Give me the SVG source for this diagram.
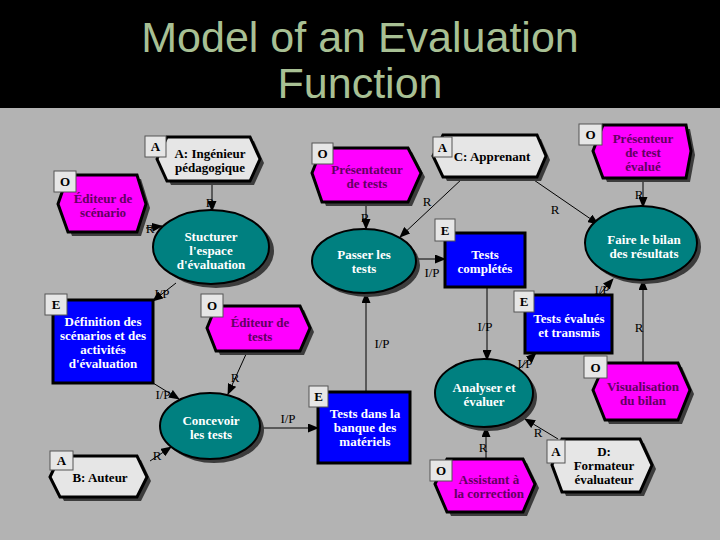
<svg xmlns="http://www.w3.org/2000/svg" width="720" height="540" viewBox="0 0 720 540">
<defs>
<marker id="ah" markerUnits="userSpaceOnUse" markerWidth="11" markerHeight="9" refX="10" refY="4.5" orient="auto" viewBox="0 0 11 9">
<path d="M0,0 L11,4.5 L0,9 z" fill="#000"/>
</marker>
</defs>
<style>
.title{font-family:"Liberation Sans",Arial,sans-serif;font-size:43px;fill:#a8c094;text-anchor:middle}
.shadow{fill:#3c3c3c;stroke:none}
.hexm{fill:#ff00ff;stroke:#000;stroke-width:3}
.hexg{fill:#e6e6e6;stroke:#000;stroke-width:3}
.ell{fill:#008080;stroke:#000;stroke-width:2}
.rect{fill:#0000ff;stroke:#000;stroke-width:3}
.lbox{fill:#e6e6e6;stroke:#555;stroke-width:1}
.lt{font-family:"Liberation Serif","Times New Roman",serif;font-size:13px;font-weight:bold;fill:#000;text-anchor:middle}
.tw{font-family:"Liberation Serif","Times New Roman",serif;font-size:13px;font-weight:bold;fill:#fff;text-anchor:middle}
.tm{font-family:"Liberation Serif","Times New Roman",serif;font-size:13px;font-weight:bold;fill:#620062;text-anchor:middle}
.tk{font-family:"Liberation Serif","Times New Roman",serif;font-size:13px;font-weight:bold;fill:#000;text-anchor:middle}
.cl{font-family:"Liberation Serif","Times New Roman",serif;font-size:13px;fill:#000;text-anchor:middle}
.conn line{stroke:#000;stroke-width:1;marker-end:url(#ah)}
</style>
<rect x="0" y="0" width="720" height="540" fill="#b3b3b3"/>
<rect x="0" y="0" width="720" height="108" fill="#000"/>
<text class="title" x="360" y="52">Model of an Evaluation</text>
<text class="title" x="360" y="98">Function</text>

<g id="connectors" class="conn">
<line x1="212" y1="182" x2="212" y2="211"/>
<line x1="146" y1="228" x2="162" y2="226"/>
<line x1="366" y1="203" x2="366" y2="229"/>
<line x1="463" y1="178" x2="400" y2="237"/>
<line x1="531" y1="178" x2="598" y2="224"/>
<line x1="416" y1="259" x2="445" y2="259"/>
<line x1="643" y1="179" x2="643" y2="207"/>
<line x1="487" y1="288" x2="487" y2="360"/>
<line x1="599" y1="295" x2="613" y2="279"/>
<line x1="519" y1="369" x2="536" y2="353"/>
<line x1="643" y1="363" x2="643" y2="280"/>
<line x1="366" y1="392" x2="366" y2="293"/>
<line x1="260" y1="428" x2="318" y2="428"/>
<line x1="247" y1="352" x2="228" y2="394"/>
<line x1="176" y1="283" x2="153" y2="301"/>
<line x1="153" y1="383" x2="179" y2="399"/>
<line x1="150" y1="461" x2="171" y2="447"/>
<line x1="486" y1="459" x2="486" y2="427"/>
<line x1="558" y1="439" x2="525" y2="419"/>
<text class="cl" x="210" y="207">R</text>
<text class="cl" x="150" y="233">R</text>
<text class="cl" x="365" y="222">R</text>
<text class="cl" x="427" y="206">R</text>
<text class="cl" x="555" y="214">R</text>
<text class="cl" x="432" y="277">I/P</text>
<text class="cl" x="639" y="199">R</text>
<text class="cl" x="485" y="331">I/P</text>
<text class="cl" x="602" y="294">I/P</text>
<text class="cl" x="525" y="368">I/P</text>
<text class="cl" x="639" y="332">R</text>
<text class="cl" x="382" y="348">I/P</text>
<text class="cl" x="288" y="423">I/P</text>
<text class="cl" x="235" y="382">R</text>
<text class="cl" x="162" y="298">I/P</text>
<text class="cl" x="163" y="399">I/P</text>
<text class="cl" x="157" y="460">R</text>
<text class="cl" x="483" y="452">R</text>
<text class="cl" x="538" y="437">R</text>
</g>

<g id="n_ingenieur">
<polygon class="shadow" points="161,163 171,141 254,141 264,163 254,185 171,185"/>
<polygon class="hexg" points="157,159 167,137 250,137 260,159 250,181 167,181"/>
<rect class="lbox" x="145" y="136" width="21" height="21"/>
<text class="lt" x="155.5" y="151">A</text>
<text class="tk" x="210" y="158">A: Ingénieur</text>
<text class="tk" x="210" y="172">pédagogique</text>
</g>

<g id="n_editeur_scenario">
<polygon class="shadow" points="62,208 72,179 141,179 150,208 141,236 72,236"/>
<polygon class="hexm" points="58,204 68,175 137,175 146,204 137,232 68,232"/>
<rect class="lbox" x="54" y="171" width="22" height="21"/>
<text class="lt" x="65" y="186">O</text>
<text class="tm" x="103" y="203">Éditeur de</text>
<text class="tm" x="103" y="217">scénario</text>
</g>

<g id="n_structurer">
<ellipse class="shadow" cx="216" cy="251" rx="58" ry="37"/>
<ellipse class="ell" cx="211" cy="247" rx="58" ry="37"/>
<text class="tw" x="211" y="241">Stucturer</text>
<text class="tw" x="211" y="255">l'espace</text>
<text class="tw" x="211" y="269">d'évaluation</text>
</g>

<g id="n_presentateur">
<polygon class="shadow" points="316,177 326,152 412,152 425,177 412,206 326,206"/>
<polygon class="hexm" points="312,173 322,148 408,148 421,173 408,202 322,202"/>
<rect class="lbox" x="312" y="143" width="21" height="21"/>
<text class="lt" x="322.5" y="158">O</text>
<text class="tm" x="367" y="174">Présentateur</text>
<text class="tm" x="367" y="188">de tests</text>
</g>

<g id="n_passer">
<ellipse class="shadow" cx="368" cy="265" rx="52" ry="32"/>
<ellipse class="ell" cx="364" cy="261" rx="52" ry="32"/>
<text class="tw" x="364" y="259">Passer les</text>
<text class="tw" x="364" y="273">tests</text>
</g>

<g id="n_apprenant">
<polygon class="shadow" points="437,160 447,139 541,139 550,160 541,181 447,181"/>
<polygon class="hexg" points="433,156 443,135 537,135 546,156 537,177 443,177"/>
<rect class="lbox" x="433" y="137" width="19" height="20"/>
<text class="lt" x="442.5" y="152">A</text>
<text class="tk" x="492" y="161">C: Apprenant</text>
</g>

<g id="n_tests_completes">
<rect class="rect" x="445" y="233" width="80" height="54"/>
<rect class="lbox" x="435" y="219" width="20" height="22"/>
<text class="lt" x="445" y="235">E</text>
<text class="tw" x="485" y="259">Tests</text>
<text class="tw" x="485" y="273">complétés</text>
</g>

<g id="n_bilan">
<ellipse class="shadow" cx="645" cy="247" rx="56" ry="37"/>
<ellipse class="ell" cx="641" cy="243" rx="56" ry="37"/>
<text class="tw" x="644" y="244">Faire le bilan</text>
<text class="tw" x="644" y="258">des résultats</text>
</g>

<g id="n_presenteur">
<polygon class="shadow" points="597,155 607,129 690,129 695,155 690,182 607,182"/>
<polygon class="hexm" points="593,151 603,125 686,125 691,151 686,178 603,178"/>
<rect class="lbox" x="579" y="124" width="23" height="21"/>
<text class="lt" x="590.5" y="139">O</text>
<text class="tm" x="643" y="143">Présenteur</text>
<text class="tm" x="643" y="157">de test</text>
<text class="tm" x="643" y="171">évalué</text>
</g>

<g id="n_tests_evalues">
<rect class="rect" x="525" y="295" width="87" height="58"/>
<rect class="lbox" x="514" y="291" width="20" height="21"/>
<text class="lt" x="524" y="306">E</text>
<text class="tw" x="569" y="323">Tests évalués</text>
<text class="tw" x="569" y="337">et transmis</text>
</g>

<g id="n_analyser">
<ellipse class="shadow" cx="488" cy="397" rx="49" ry="34"/>
<ellipse class="ell" cx="484" cy="393" rx="49" ry="34"/>
<text class="tw" x="484" y="392">Analyser et</text>
<text class="tw" x="484" y="406">évaluer</text>
</g>

<g id="n_visualisation">
<polygon class="shadow" points="597,394 609,367 682,367 694,394 682,424 609,424"/>
<polygon class="hexm" points="593,390 605,363 678,363 690,390 678,420 605,420"/>
<rect class="lbox" x="584" y="356" width="23" height="22"/>
<text class="lt" x="595.5" y="372">O</text>
<text class="tm" x="643" y="391">Visualisation</text>
<text class="tm" x="643" y="405">du bilan</text>
</g>

<g id="n_banque">
<rect class="rect" x="318" y="392" width="92" height="71"/>
<rect class="lbox" x="309" y="386" width="19" height="21"/>
<text class="lt" x="318.5" y="401">E</text>
<text class="tw" x="365" y="418">Tests dans la</text>
<text class="tw" x="365" y="432">banque des</text>
<text class="tw" x="365" y="446">matériels</text>
</g>

<g id="n_concevoir">
<ellipse class="shadow" cx="214" cy="430" rx="50" ry="33"/>
<ellipse class="ell" cx="210" cy="426" rx="50" ry="33"/>
<text class="tw" x="211" y="425">Concevoir</text>
<text class="tw" x="211" y="439">les tests</text>
</g>

<g id="n_editeur_tests">
<polygon class="shadow" points="211,332 220,310 304,310 314,332 304,355 220,355"/>
<polygon class="hexm" points="207,328 216,306 300,306 310,328 300,351 216,351"/>
<rect class="lbox" x="201" y="294" width="22" height="23"/>
<text class="lt" x="212" y="310">O</text>
<text class="tm" x="260" y="327">Éditeur de</text>
<text class="tm" x="260" y="341">tests</text>
</g>

<g id="n_definition">
<rect class="rect" x="53" y="300" width="100" height="83"/>
<rect class="lbox" x="45" y="294" width="22" height="21"/>
<text class="lt" x="56" y="309">E</text>
<text class="tw" x="103" y="326">Définition des</text>
<text class="tw" x="103" y="340">scénarios et des</text>
<text class="tw" x="103" y="354">activités</text>
<text class="tw" x="103" y="368">d'évaluation</text>
</g>

<g id="n_auteur">
<polygon class="shadow" points="54,481 64,460 141,460 151,481 141,501 64,501"/>
<polygon class="hexg" points="50,477 60,456 137,456 147,477 137,497 60,497"/>
<rect class="lbox" x="50" y="451" width="23" height="19"/>
<text class="lt" x="61.5" y="465">A</text>
<text class="tk" x="100" y="482">B: Auteur</text>
</g>

<g id="n_assistant">
<polygon class="shadow" points="439,488 451,463 527,463 539,488 527,516 451,516"/>
<polygon class="hexm" points="435,484 447,459 523,459 535,484 523,512 447,512"/>
<rect class="lbox" x="430" y="460" width="22" height="21"/>
<text class="lt" x="441" y="475">O</text>
<text class="tm" x="489" y="484">Assistant à</text>
<text class="tm" x="489" y="498">la correction</text>
</g>

<g id="n_formateur">
<polygon class="shadow" points="556,469 566,443 644,443 656,469 644,496 566,496"/>
<polygon class="hexg" points="552,465 562,439 640,439 652,465 640,492 562,492"/>
<rect class="lbox" x="547" y="440" width="18" height="23"/>
<text class="lt" x="556" y="456">A</text>
<text class="tk" x="604" y="456">D:</text>
<text class="tk" x="604" y="470">Formateur</text>
<text class="tk" x="604" y="484">évaluateur</text>
</g>
</svg>
